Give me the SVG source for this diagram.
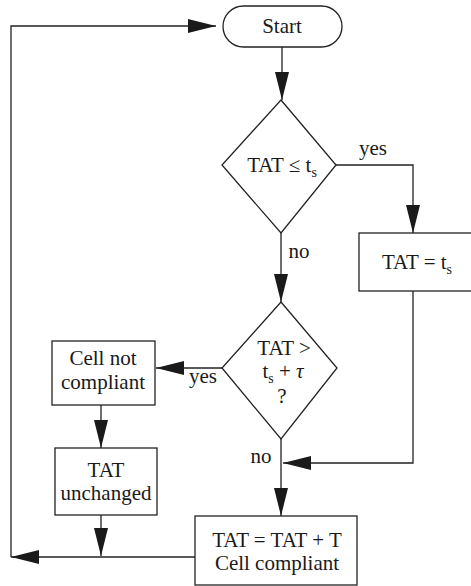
<svg xmlns="http://www.w3.org/2000/svg" width="471" height="586" viewBox="0 0 471 586">
  <style>
    .shape { fill: #ffffff; stroke: #222222; stroke-width: 1.3; }
    .line { fill: none; stroke: #222222; stroke-width: 1.3; }
    .label { font-family: 'Liberation Serif', 'Times New Roman', Times, serif; font-size: 21px; fill: #1a1a1a; text-anchor: middle; }
    .sub { font-size: 14px; }
  </style>
  <defs>
    <marker id="arrow" markerUnits="userSpaceOnUse" markerWidth="28" markerHeight="14" refX="28" refY="7" orient="auto">
      <path d="M0,0 L28,7 L0,14 z" fill="#1a1a1a"/>
    </marker>
  </defs>
  <rect width="471" height="586" fill="#ffffff"/>

  <!-- connectors -->
  <g id="connectors">
    <line class="line" x1="282" y1="47" x2="282" y2="100" marker-end="url(#arrow)"/>
    <polyline class="line" points="336,165 413,165 413,233" marker-end="url(#arrow)"/>
    <line class="line" x1="281" y1="233" x2="281" y2="302" marker-end="url(#arrow)"/>
    <polyline class="line" points="413,291 413,463 283,463" marker-end="url(#arrow)"/>
    <line class="line" x1="222" y1="368" x2="156" y2="368" marker-end="url(#arrow)"/>
    <line class="line" x1="281" y1="439" x2="281" y2="516" marker-end="url(#arrow)"/>
    <line class="line" x1="101" y1="405" x2="101" y2="448" marker-end="url(#arrow)"/>
    <line class="line" x1="101" y1="515" x2="101" y2="556" marker-end="url(#arrow)"/>
    <line class="line" x1="195" y1="557" x2="11" y2="557" marker-end="url(#arrow)"/>
    <polyline class="line" points="11,557 11,26 216,26" marker-end="url(#arrow)"/>
    <text class="label" font-family="Liberation Serif, serif" x="373" y="155">yes</text>
    <text class="label" font-family="Liberation Serif, serif" x="299" y="258">no</text>
    <text class="label" font-family="Liberation Serif, serif" x="203" y="383">yes</text>
    <text class="label" font-family="Liberation Serif, serif" x="261" y="463">no</text>
  </g>

  <!-- nodes -->
  <g id="start">
    <rect class="shape" x="223" y="6" width="119" height="41" rx="20.5"/>
    <text class="label" x="282" y="33">Start</text>
  </g>

  <g id="decision-ts">
    <polygon class="shape" points="281,100 336,165 281,233 222,165"/>
    <text class="label" x="282" y="172">TAT ≤ t<tspan class="sub" dy="5">s</tspan></text>
  </g>

  <g id="set-ts">
    <rect class="shape" x="359" y="233" width="120" height="58"/>
    <text class="label" x="417" y="269">TAT = t<tspan class="sub" dy="5">s</tspan></text>
  </g>

  <g id="decision-tau">
    <polygon class="shape" points="281,302 337,368 281,439 222,368"/>
    <text class="label" x="284" y="355">TAT &gt;</text>
    <text class="label" x="283" y="378">t<tspan class="sub" dy="5">s</tspan><tspan dy="-5"> + </tspan><tspan font-style="italic">τ</tspan></text>
    <text class="label" x="282" y="403">?</text>
  </g>

  <g id="not-compliant">
    <rect class="shape" x="52" y="341" width="103" height="64"/>
    <text class="label" x="103" y="365">Cell not</text>
    <text class="label" x="103" y="389">compliant</text>
  </g>

  <g id="unchanged">
    <rect class="shape" x="55" y="448" width="102" height="67"/>
    <text class="label" x="106" y="477">TAT</text>
    <text class="label" x="106" y="500">unchanged</text>
  </g>

  <g id="compliant">
    <rect class="shape" x="195" y="516" width="162" height="69"/>
    <text class="label" x="277" y="547">TAT = TAT + T</text>
    <text class="label" x="277" y="570">Cell compliant</text>
  </g>
</svg>
